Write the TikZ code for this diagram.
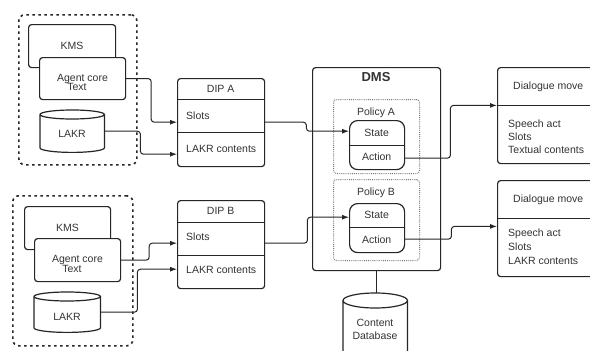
\documentclass[tikz,border=0pt]{standalone}
\usepackage{fontspec}
\setmainfont{Liberation Sans}
\usetikzlibrary{arrows.meta,calc}

% vertical cylinder drawn over an (undrawn) rectangular node: #1 node, #2 ellipse half-height
\newcommand\drumshape[2]{%
  \draw[ink, fill=white] let \p1=(#1.north west), \p2=(#1.south east), \n1={(\x2-\x1)/2} in
    (\x1,\y1-#2) -- (\x1,\y2+#2) arc[start angle=180, end angle=360, x radius=\n1, y radius=#2]
    -- (\x2,\y1-#2) arc[start angle=0, end angle=180, x radius=\n1, y radius=#2]
    arc[start angle=180, end angle=360, x radius=\n1, y radius=#2];}

\begin{document}
\begin{tikzpicture}[x=1pt, y=1pt,
  font=\fontsize{10.5}{12}\selectfont,
  ink/.style={draw=black!85, line width=1.2pt},
  bx/.style={ink, rounded corners=3pt, fill=white},
  blk/.style n args={2}{minimum width=#1, minimum height=#2, anchor=north west, inner sep=0pt},
  grp/.style={draw=black!85, line width=1.6pt, dash pattern=on 2.5pt off 3.5pt, rounded corners=6pt},
  pol/.style={draw=black!55, line width=1pt, dash pattern=on 0.8pt off 1.1pt, rounded corners=3pt},
  sa/.style={ink, rounded corners=8pt, fill=white},
  txt/.style={inner sep=0pt, text height=7.5pt, text depth=0pt, text=black!80},
  lines/.style={inner sep=0pt, text=black!80, align=left, anchor=north west},
  conn/.style={draw=black!85, line width=1pt, rounded corners=3pt},
  arr/.style={conn, -{Latex[length=7pt,width=5pt]}}
]
\useasboundingbox (0,0) rectangle (590,-351);
\clip (0,0) rectangle (590,-351);
\fill[white] (0,0) rectangle (590,-351);

% ---------------- knowledge sources, group A ----------------
\node[grp, blk={118pt}{150pt}] (grpA) at (18,-14) {};
\node[bx, blk={87pt}{43pt}, txt] (kmsA) at (28,-24) {KMS};
\node[bx, blk={86pt}{42pt}] (agentA) at (39,-57) {};
\node[txt] (agentAa) at (82.5,-78) {Agent core};
\node[txt] (agentAb) at (77,-87) {Text};
\node[blk={64pt}{42pt}] (lakrA) at (40,-110) {};
\drumshape{lakrA}{4.5pt}
\node[txt] (lakrAt) at (72,-134) {LAKR};

% ---------------- knowledge sources, group B ----------------
\node[grp, blk={120pt}{150pt}] (grpB) at (12,-195) {};
\node[bx, blk={86pt}{43pt}, txt] (kmsB) at (24,-206) {KMS};
\node[bx, blk={86pt}{43pt}] (agentB) at (34,-238) {};
\node[txt] (agentBa) at (77.5,-259) {Agent core};
\node[txt] (agentBb) at (72,-269) {Text};
\node[blk={66pt}{40pt}] (lakrB) at (34,-292) {};
\drumshape{lakrB}{4.5pt}
\node[txt] (lakrBt) at (67,-317) {LAKR};

% ---------------- DIP A ----------------
\node[bx, blk={87pt}{88pt}] (dipA) at (177,-78) {};
\node[blk={87pt}{21pt}, txt] (dipAt) at (177,-78) {DIP A};
\node[blk={87pt}{33pt}] (dipAs) at (177,-99) {};
\node[blk={87pt}{34pt}] (dipAl) at (177,-132) {};
\node[txt, anchor=west] (dipAsT) at ([xshift=9pt]dipAs.west) {Slots};
\node[txt, anchor=west] (dipAlT) at ([xshift=9pt, yshift=0.5pt]dipAl.west) {LAKR contents};
\draw[ink] (dipAt.south west) -- (dipAt.south east);
\draw[ink] (dipAs.south west) -- (dipAs.south east);

% ---------------- DIP B ----------------
\node[bx, blk={87pt}{88pt}] (dipB) at (177,-200) {};
\node[blk={87pt}{22pt}, txt] (dipBt) at (177,-200) {DIP B};
\node[blk={87pt}{33pt}] (dipBs) at (177,-222) {};
\node[blk={87pt}{33pt}] (dipBl) at (177,-255) {};
\node[txt, anchor=west] (dipBsT) at ([xshift=9pt, yshift=1.5pt]dipBs.west) {Slots};
\node[txt, anchor=west] (dipBlT) at ([xshift=9pt, yshift=1.5pt]dipBl.west) {LAKR contents};
\draw[ink] (dipBt.south west) -- (dipBt.south east);
\draw[ink] (dipBs.south west) -- (dipBs.south east);

% ---------------- DMS with its two policies ----------------
\node[bx, blk={128pt}{203pt}] (dms) at (312,-67) {};
\node[txt, text height=9.4pt, font=\bfseries\fontsize{13}{15}\selectfont] (dmsT) at (376,-77) {DMS};

\node[pol, blk={86pt}{74pt}] (polA) at (333,-99) {};
\node[txt] (polAT) at (376,-112) {Policy A};
\node[sa, blk={55pt}{49pt}] (saA) at (349,-120) {};
\node[blk={55pt}{25pt}, txt] (stateA) at (349,-120) {State};
\node[blk={55pt}{24pt}, txt] (actionA) at (349,-145) {Action};
\draw[ink] (stateA.south west) -- (stateA.south east);

\node[pol, blk={86pt}{81pt}] (polB) at (333,-179) {};
\node[txt] (polBT) at (376,-192) {Policy B};
\node[sa, blk={55pt}{49pt}] (saB) at (349,-203) {};
\node[blk={55pt}{24pt}, txt] (stateB) at (349,-203) {State};
\node[blk={55pt}{25pt}, txt] (actionB) at (349,-227) {Action};
\draw[ink] (stateB.south west) -- (stateB.south east);

% ---------------- content database ----------------
\node[blk={64pt}{80pt}] (db) at (343,-293) {};
\drumshape{db}{7.5pt}
\node[lines, anchor=north, align=center, font=\fontsize{10.5}{13}\selectfont] (dbT) at (375,-319) {Content\\Database};
\draw[ink] (dms.south) -- (dms.south |- db.north);

% ---------------- dialogue moves ----------------
\node[bx, blk={102pt}{96pt}] (dmA) at (497,-67) {};
\node[blk={102pt}{38pt}, txt] (dmAt) at (497,-67) {Dialogue move};
\draw[ink] (dmAt.south west) -- (dmAt.south east);
\node[lines, font=\fontsize{10.5}{13}\selectfont] (dmAb) at (508,-119.2) {Speech act\\Slots\\Textual contents};

\node[bx, blk={102pt}{96pt}] (dmB) at (497,-180) {};
\node[blk={102pt}{38pt}, txt] (dmBt) at (497,-180) {Dialogue move};
\draw[ink] (dmBt.south west) -- (dmBt.south east);
\node[lines, font=\fontsize{10.5}{14}\selectfont] (dmBb) at (508,-228.2) {Speech act\\Slots\\LAKR contents};

% ---------------- connectors ----------------
\draw[arr] (agentA.east) -- ++(25,0) |- ([yshift=-6.5pt]dipAs.west);
\draw[arr] (lakrA.east) -- ++(36,0) |- ([yshift=-5pt]dipAl.west);
\draw[arr] (agentB.east) -- ++(28,0) |- ([yshift=-4.5pt]dipBs.west);
\draw[arr] (lakrB.east) -- ++(37,0) |- ([yshift=2.5pt]dipBl.west);

\draw[arr] ([yshift=-6.5pt]dipAs.east) -- ++(42,0) |- ([yshift=1.5pt]stateA.west);
\draw[arr] ([yshift=-4.5pt]dipBs.east) -- ++(43,0) |- ([yshift=-2pt]stateB.west);

\draw[arr] ([yshift=-1pt]actionA.east) -- ++(46,0) |- (dmAt.south west);
\draw[arr] ([yshift=0.5pt]actionB.east) -- ++(47,0) |- ([yshift=-8pt]dmBt.south west);
\end{tikzpicture}
\end{document}
